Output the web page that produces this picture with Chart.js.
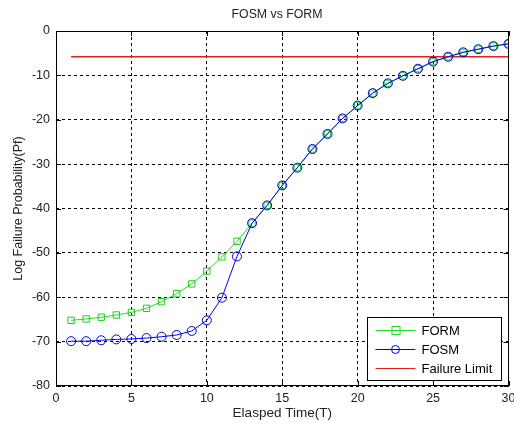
<!DOCTYPE html>
<html><head><meta charset="utf-8">
<script src="https://cdn.jsdelivr.net/npm/chart.js@4/dist/chart.umd.min.js"></script>
<style>html,body{margin:0;padding:0;background:#fff}#wrap{width:514px;height:426px}</style>
</head><body><div id="wrap"><canvas id="c" width="514" height="426"></canvas></div>
<script>
const timeSteps = [1,2,3,4,5,6,7,8,9,10,11,12,13,14,15,16,17,18,19,20,21,22,23,24,25,26,27,28,29,30];
const formValues = [-65.2,-64.9,-64.5,-64.0,-63.4,-62.5,-61.0,-59.2,-57.0,-54.1,-50.9,-47.4,-43.3,-39.3,-34.8,-30.8,-26.6,-23.2,-19.7,-16.8,-14.0,-11.8,-10.1,-8.5,-6.9,-5.8,-4.8,-4.1,-3.4,-2.9];
const fosmValues = [-69.9,-69.9,-69.7,-69.5,-69.4,-69.2,-68.9,-68.5,-67.6,-65.2,-60.1,-50.8,-43.3,-39.3,-34.8,-30.8,-26.6,-23.2,-19.7,-16.8,-14.0,-11.8,-10.1,-8.5,-6.9,-5.8,-4.8,-4.1,-3.4,-2.9];
const failureLimit = -5.8;
const limitX = [1,30];
const seriesNames = ['FORM','FOSM','Failure Limit'];
const xTicks = [0,5,10,15,20,25,30];
const yTicks = [0,-10,-20,-30,-40,-50,-60,-70,-80];
const chartTitle = 'FOSM vs FORM';

const FONT = 'Liberation Sans, Arial, sans-serif';
const toXY = (xs, ys) => xs.map((x,i)=>({x, y: ys[i]}));

const framePlugin = {
  id:'frame',
  afterDatasetsDraw(chart){
    const {ctx, chartArea:a, scales:{x, y}} = chart;
    ctx.save();
    ctx.fillStyle='#222'; ctx.font='12.3px '+FONT; ctx.textAlign='center'; ctx.textBaseline='middle';
    ctx.fillText(chartTitle, 277, 15);
    ctx.strokeStyle='#000'; ctx.lineWidth=1; ctx.setLineDash([]);
    ctx.strokeRect(Math.round(a.left)+0.5, Math.round(a.top)+0.5, Math.round(a.right-a.left)-1, Math.round(a.bottom-a.top)-1);
    ctx.beginPath();
    xTicks.forEach(v=>{const px=Math.round(x.getPixelForValue(v))+0.5;
      ctx.moveTo(px,a.bottom); ctx.lineTo(px,a.bottom-5);
      ctx.moveTo(px,a.top); ctx.lineTo(px,a.top+5);});
    yTicks.forEach(v=>{const py=Math.round(y.getPixelForValue(v))+0.5;
      ctx.moveTo(a.left,py); ctx.lineTo(a.left+5,py);
      ctx.moveTo(a.right,py); ctx.lineTo(a.right-5,py);});
    ctx.stroke();
    const bx=367.5, by=317.5, bw=134, bh=63;
    ctx.fillStyle='#fff'; ctx.fillRect(bx,by,bw,bh);
    ctx.strokeRect(bx,by,bw,bh);
    const ds = chart.data.datasets;
    const rows=[by+12, by+31, by+50];
    ds.forEach((d,i)=>{
      const ry=Math.round(rows[i])+0.5;
      ctx.strokeStyle=d.borderColor; ctx.lineWidth=1;
      ctx.beginPath(); ctx.moveTo(bx+8,ry); ctx.lineTo(bx+48,ry); ctx.stroke();
      if(d.pointStyle==='rect'){ctx.strokeRect(bx+24.5,ry-4,8,8);}
      else if(d.pointStyle==='circle' && d.pointRadius>0){ctx.beginPath();ctx.arc(bx+28,ry,4,0,Math.PI*2);ctx.stroke();}
      ctx.fillStyle='#000'; ctx.font='13px '+FONT; ctx.textBaseline='middle'; ctx.textAlign='left';
      ctx.fillText(d.label,bx+54,ry+1);
    });
    ctx.restore();
  }
};

new Chart(document.getElementById('c'),{
  type:'line',
  data:{datasets:[
    {label:seriesNames[0], data:toXY(timeSteps,formValues), borderColor:'#22dd22', backgroundColor:'rgba(0,0,0,0)', borderWidth:1, pointStyle:'rect', pointRadius:4.5, pointBorderColor:'#22cc22', pointBorderWidth:1, order:1},
    {label:seriesNames[1], data:toXY(timeSteps,fosmValues), borderColor:'#0000ee', backgroundColor:'rgba(0,0,0,0)', borderWidth:1, pointStyle:'circle', pointRadius:4.5, pointBorderColor:'#0000cc', pointBorderWidth:1, order:0},
    {label:seriesNames[2], data:limitX.map(x=>({x, y: failureLimit})), borderColor:'#e02020', backgroundColor:'rgba(0,0,0,0)', borderWidth:1.3, pointRadius:0, order:2}
  ]},
  options:{
    responsive:false, animation:false, events:[],
    layout:{padding:{left:0,right:4,top:31,bottom:0}},
    plugins:{
      legend:{display:false}, tooltip:{enabled:false}, title:{display:false}
    },
    scales:{
      x:{type:'linear', min:0, max:30,
        afterFit(s){s.height=40; s.paddingLeft=0; s.paddingRight=0;},
        afterBuildTicks(s){s.ticks=xTicks.map(v=>({value:v}));},
        ticks:{color:'#222', font:{family:FONT,size:12.5}, padding:5, maxRotation:0},
        grid:{color:'#000', lineWidth:1, drawTicks:false, tickLength:0},
        border:{display:false, dash:[3,3]},
        title:{display:true, text:'Elasped Time(T)', color:'#222', font:{family:FONT,size:13.5}, padding:{top:2,bottom:4.8}}
      },
      y:{type:'linear', min:-80, max:0,
        afterFit(s){s.width=56; s.paddingTop=0; s.paddingBottom=0;},
        afterBuildTicks(s){s.ticks=yTicks.map(v=>({value:v}));},
        ticks:{color:'#222', font:{family:FONT,size:12.5}, padding:6},
        grid:{color:'#000', lineWidth:1, drawTicks:false, tickLength:0},
        border:{display:false, dash:[3,3]},
        title:{display:true, text:'Log Failure Probability(Pf)', color:'#222', font:{family:FONT,size:12.5}, padding:{top:11.5,bottom:2}}
      }
    }
  },
  plugins:[framePlugin]
});
</script></body></html>
